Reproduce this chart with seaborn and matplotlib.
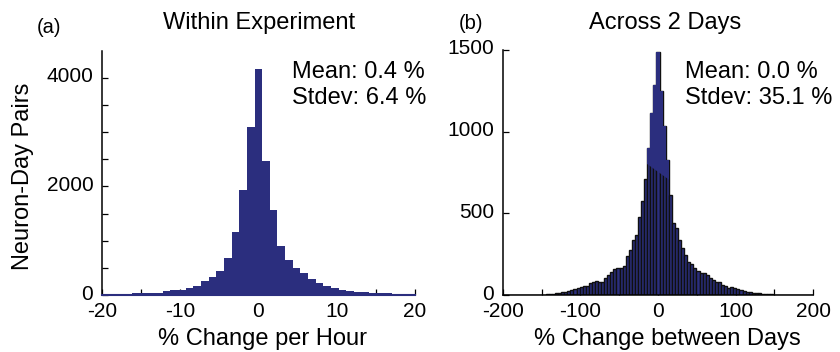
import numpy as np
import pandas as pd
import matplotlib
matplotlib.use("Agg")
import matplotlib.pyplot as plt
from matplotlib.patches import Polygon
from matplotlib.transforms import ScaledTranslation
import seaborn as sns

# ---------------- data ----------------
# Panel (a): 41 bins over [-20, 20]
a_range = (-20, 20)
a_nbins = 41
a_counts = [12, 25, 25, 25, 30, 37, 43, 43, 80, 92, 92, 135, 172, 252, 338, 448,
            678, 1167, 1935, 3090, 4160,
            2470, 1572, 903, 645, 498, 405, 301, 215, 160, 123, 98, 74, 61, 49,
            43, 37, 31, 18, 18, 12]

# Panel (b): 101 bins over [-200, 200]
b_range = (-200, 200)
b_nbins = 101
b_counts = [0, 0, 0, 0, 0, 0, 0, 0, 0, 0, 0,
            1, 2, 3, 4, 5, 8, 10, 14, 18, 18, 22, 31, 35, 41, 47, 55, 55, 71, 82,
            88, 80, 78, 102, 122, 139, 157, 165, 165, 177, 241, 276, 337, 367,
            480, 575, 708, 898, 1116, 1286, 1490,
            1250, 1035, 827, 610, 443, 408, 337, 286, 245, 204, 190, 163, 149,
            133, 133, 122, 102, 92, 80, 82, 63, 53, 43, 47, 45, 35, 31, 27, 20,
            16, 12, 10, 13, 9, 7, 5, 4, 3, 2, 1,
            0, 0, 0, 0, 0, 0, 0, 0, 0, 0]

titles = ["Within Experiment", "Across 2 Days"]
panel_tags = ["(a)", "(b)"]
xlabels = ["% Change per Hour", "% Change between Days"]
ylabel = "Neuron-Day Pairs"
stats_a = ["Mean: 0.4 %", "Stdev: 6.4 %"]
stats_b = ["Mean: 0.0 %", "Stdev: 35.1 %"]

a_xticks = [-20, -10, 0, 10, 20]
a_xminor = [-15, -5, 5, 15]
a_yticks = [0, 2000, 4000]
a_yminor = [500, 1000, 1500, 2500, 3000, 3500]
b_xticks = [-200, -100, 0, 100, 200]
b_xminor = [-150, -50, 50, 150]
b_yticks = [0, 500, 1000, 1500]

BAR = "#2B2E7E"
TICKFS = 15

# ---------------- style ----------------
sns.set_style("ticks")
plt.rcParams["font.family"] = ["Liberation Sans", "DejaVu Sans"]
plt.rcParams["text.color"] = "black"

W, H = 840, 352
fig = plt.figure(figsize=(W / 100, H / 100), dpi=100)

def px_rect(l, r, t, b):
    return [l / W, 1 - b / H, (r - l) / W, (b - t) / H]

axa = fig.add_axes(px_rect(101.7, 415.0, 50.7, 295.0))
axb = fig.add_axes(px_rect(502.7, 813.3, 50.0, 295.0))

def bin_table(rng, n, counts):
    edges = np.linspace(rng[0], rng[1], n + 1)
    centers = 0.5 * (edges[:-1] + edges[1:])
    return pd.DataFrame({"center": centers, "count": np.asarray(counts, dtype=float)})

# ---- panel a ----
dfa = bin_table(a_range, a_nbins, a_counts)
sns.histplot(data=dfa, x="center", weights="count", bins=a_nbins, binrange=a_range,
             ax=axa, color=BAR, alpha=1, edgecolor=BAR, linewidth=0)
axa.set_xlim(-20, 20)
axa.set_ylim(0, 4500)

# ---- panel b ----
dfb = bin_table(b_range, b_nbins, b_counts)
sns.histplot(data=dfb, x="center", weights="count", bins=b_nbins, binrange=b_range,
             ax=axb, color=BAR, alpha=1, edgecolor="#101010", linewidth=1.0)
n_before = len(axb.patches)
sns.histplot(data=dfb, x="center", weights="count", bins=b_nbins, binrange=b_range,
             ax=axb, color=BAR, alpha=1, edgecolor=BAR, linewidth=0)
# upper part of the peak shows plain blue bars
def edge_line(v):
    return 795 - 3.4 * (v + 12)
clip = Polygon([(-200, edge_line(-200)), (200, edge_line(200)), (200, 3000), (-200, 3000)],
               closed=True, transform=axb.transData, facecolor="none", edgecolor="none")
for p in axb.patches[n_before:]:
    p.set_clip_path(clip)
axb.set_xlim(-200, 200)
axb.set_ylim(0, 1500)

# ---- axes cosmetics ----
for ax, xt, xm, yt in [(axa, a_xticks, a_xminor, a_yticks), (axb, b_xticks, b_xminor, b_yticks)]:
    ax.set_xlabel("")
    ax.set_ylabel("")
    ax.set_xticks(xt)
    ax.set_xticklabels([str(t) for t in xt], fontsize=TICKFS)
    ax.set_xticks(xm, minor=True)
    ax.set_yticks(yt)
    ax.set_yticklabels([str(t) for t in yt], fontsize=TICKFS)
    ax.tick_params(axis="both", which="both", direction="in", length=4, width=0.9,
                   color="black", labelsize=TICKFS, labelcolor="black")
    ax.tick_params(axis="x", pad=5)
    ax.tick_params(axis="y", pad=6)
    for s in ["top", "right"]:
        ax.spines[s].set_visible(False)
    ax.spines["left"].set_color("black")
    ax.spines["left"].set_linewidth(1.1)
    ax.spines["bottom"].set_color("black")
    ax.spines["bottom"].set_linewidth(1.1)
    ax.set_axisbelow(True)
    ax.set_facecolor("white")
    for lab in ax.get_yticklabels():
        lab.set_transform(lab.get_transform() + ScaledTranslation(0, 3 / 100, fig.dpi_scale_trans))

axa.set_yticks(a_yminor, minor=True)
axa.spines["bottom"].set_color(BAR)
axa.spines["bottom"].set_linewidth(1.5)

# ---- texts ----
def ftext(x, y, s, **kw):
    fig.text(x / W, 1 - y / H, s, **kw)

ftext(259.5, 29, titles[0], ha="center", va="baseline", fontsize=17)
ftext(665.5, 29, titles[1], ha="center", va="baseline", fontsize=17)
ftext(36.5, 33, panel_tags[0], ha="left", va="baseline", fontsize=14.5)
ftext(458.5, 29, panel_tags[1], ha="left", va="baseline", fontsize=14.5)

ftext(291.5, 78, stats_a[0], ha="left", va="baseline", fontsize=17)
ftext(291.5, 104, stats_a[1], ha="left", va="baseline", fontsize=17)
ftext(685, 78, stats_b[0], ha="left", va="baseline", fontsize=17)
ftext(685, 104, stats_b[1], ha="left", va="baseline", fontsize=17)

ftext(263, 345, xlabels[0], ha="center", va="baseline", fontsize=17)
ftext(667, 345, xlabels[1], ha="center", va="baseline", fontsize=17)
ftext(23, 176, ylabel, ha="center", va="center", rotation=90, fontsize=17)

fig.savefig("out.png", dpi=100, facecolor="white")
